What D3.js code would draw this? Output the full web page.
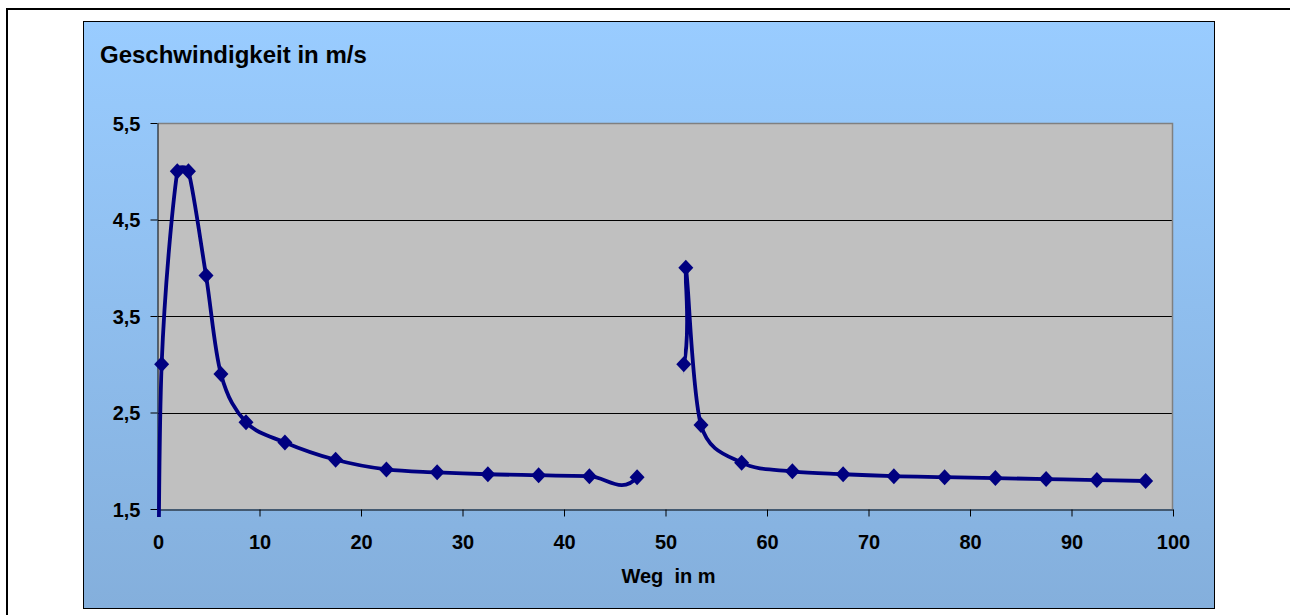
<!DOCTYPE html>
<html><head><meta charset="utf-8">
<script src="https://cdn.jsdelivr.net/npm/d3@7"></script>
<style>
body{margin:0;background:#fff}
svg{display:block}
text{font-family:"Liberation Sans",Arial,Helvetica,sans-serif;font-weight:bold;fill:#000}
</style>
</head><body>
<svg id="chart" width="1290" height="615"></svg>
<script>
// ---- data ----
const wegValues = [0, 0.36, 1.9, 3.0, 4.73, 6.2, 8.67, 12.5, 17.5, 22.5, 27.5, 32.5, 37.5, 42.5, 47.2,
                   51.8, 52.0, 53.5, 57.5, 62.5, 67.5, 72.5, 77.5, 82.5, 87.5, 92.5, 97.3];
const speedValues = [0, 3.0, 5.0, 5.0, 3.92, 2.9, 2.4, 2.19, 2.01, 1.91, 1.88, 1.86, 1.85, 1.84, 1.83,
                     3.0, 4.0, 2.37, 1.98, 1.89, 1.86, 1.84, 1.83, 1.82, 1.81, 1.80, 1.79];
const hiddenSegmentFrom = [47.2];   // Weg value where an undrawn segment starts
const hiddenSegmentTo = [51.8];     // Weg value where it ends
const yTickValues = [1.5, 2.5, 3.5, 4.5, 5.5];
const yTickLabels = ["1,5", "2,5", "3,5", "4,5", "5,5"];
const xTickValues = [0, 10, 20, 30, 40, 50, 60, 70, 80, 90, 100];
const xTickLabels = ["0", "10", "20", "30", "40", "50", "60", "70", "80", "90", "100"];
const chartTitle = "Geschwindigkeit in m/s";
const xAxisTitle = "Weg  in m";

// ---- layout ----
const svg = d3.select("#chart");
const plot = {left: 158, right: 1173, top: 123, bottom: 509};
const area = {left: 83.5, top: 21.5, right: 1214.5, bottom: 608.5};

const defs = svg.append("defs");
const grad = defs.append("linearGradient").attr("id", "bg").attr("x1", 0).attr("y1", 0).attr("x2", 0).attr("y2", 1);
grad.append("stop").attr("offset", "0%").attr("stop-color", "#99CCFF");
grad.append("stop").attr("offset", "100%").attr("stop-color", "#84AFDC");

// outer frame (right/bottom edges lie outside the picture)
svg.append("rect").attr("x", 7).attr("y", 9).attr("width", 1400).attr("height", 800)
  .attr("fill", "none").attr("stroke", "#000").attr("stroke-width", 2);

// chart area
svg.append("rect").attr("x", area.left).attr("y", area.top)
  .attr("width", area.right - area.left).attr("height", area.bottom - area.top)
  .attr("fill", "url(#bg)").attr("stroke", "#000").attr("stroke-width", 1);

const x = d3.scaleLinear().domain([0, 100]).range([plot.left, plot.right]);
const y = d3.scaleLinear().domain([1.5, 5.5]).range([plot.bottom, plot.top]);

// plot area
svg.append("rect").attr("x", plot.left).attr("y", plot.top)
  .attr("width", plot.right - plot.left).attr("height", plot.bottom - plot.top)
  .attr("fill", "#C0C0C0");

// gridlines
svg.append("g").selectAll("line").data(yTickValues.filter(v => v > 1.5 && v < 5.5)).join("line")
  .attr("x1", plot.left).attr("x2", plot.right)
  .attr("y1", d => Math.round(y(d)) + 0.5).attr("y2", d => Math.round(y(d)) + 0.5)
  .attr("stroke", "#000").attr("stroke-width", 1);

// top & right plot borders (gray)
svg.append("path")
  .attr("d", `M${plot.left},${plot.top + 0.5}H${plot.right - 0.5}V${plot.bottom}`)
  .attr("fill", "none").attr("stroke", "#808080").attr("stroke-width", 1.5);

// axes
const yAxis = d3.axisLeft(y).tickValues(yTickValues)
  .tickFormat((d, i) => yTickLabels[i]).tickSize(7).tickSizeOuter(0).tickPadding(10);
const gy = svg.append("g").attr("transform", `translate(${plot.left - 0.5},0)`).call(yAxis);
gy.selectAll("text").attr("font-size", 20).attr("dy", "0.36em").style("fill", "#000");
gy.selectAll("line, path").attr("stroke", "#000");

const xAxis = d3.axisBottom(x).tickValues(xTickValues)
  .tickFormat((d, i) => xTickLabels[i]).tickSize(7).tickSizeOuter(0).tickPadding(18);
const gx = svg.append("g").attr("transform", `translate(0,${plot.bottom + 0.5})`).call(xAxis);
gx.selectAll("text").attr("font-size", 20).style("fill", "#000");
gx.selectAll("line, path").attr("stroke", "#000");
gy.attr("font-family", null); gx.attr("font-family", null);

// titles
svg.append("text").attr("x", 100).attr("y", 63).attr("font-size", 24).text(chartTitle);
svg.append("text").attr("x", (plot.left + plot.right) / 2 + 3).attr("y", 583)
  .attr("font-size", 20).attr("text-anchor", "middle").style("white-space", "pre").text(xAxisTitle);

// series
const points = wegValues.map((w, i) => ({w, v: speedValues[i]}));

const clip = defs.append("clipPath").attr("id", "lineclip");
const bounds = [plot.left - 10].concat(
  hiddenSegmentFrom.flatMap((f, i) => [x(f), x(hiddenSegmentTo[i])]), [plot.right + 10]);
for (let i = 0; i < bounds.length; i += 2) {
  clip.append("rect").attr("x", bounds[i]).attr("y", plot.top - 20)
    .attr("width", bounds[i + 1] - bounds[i]).attr("height", plot.bottom - plot.top + 28);
}

// Excel-style smoothing: Catmull-Rom handles (1/6 of neighbour chord), capped at half the segment length
function excelSmooth(pts) {
  const p = d3.path();
  const n = pts.length;
  const dist = (a, b) => Math.hypot(b[0] - a[0], b[1] - a[1]);
  p.moveTo(pts[0][0], pts[0][1]);
  for (let i = 0; i < n - 1; i++) {
    const p0 = pts[Math.max(i - 1, 0)], p1 = pts[i], p2 = pts[i + 1], p3 = pts[Math.min(i + 2, n - 1)];
    const d12 = dist(p1, p2), d02 = dist(p0, p2), d13 = dist(p1, p3);
    let f1 = 1 / 6, f2 = 1 / 6;
    if (d02 * f1 > d12 / 2) f1 = d02 > 0 ? (d12 / 2) / d02 : 0;
    if (d13 * f2 > d12 / 2) f2 = d13 > 0 ? (d12 / 2) / d13 : 0;
    const c1 = [p1[0] + (p2[0] - p0[0]) * f1, p1[1] + (p2[1] - p0[1]) * f1];
    const c2 = [p2[0] - (p3[0] - p1[0]) * f2, p2[1] - (p3[1] - p1[1]) * f2];
    p.bezierCurveTo(c1[0], c1[1], c2[0], c2[1], p2[0], p2[1]);
  }
  return p.toString();
}

svg.append("path")
  .attr("d", excelSmooth(points.map(d => [x(d.w), y(d.v)])))
  .attr("clip-path", "url(#lineclip)")
  .attr("fill", "none").attr("stroke", "#000080").attr("stroke-width", 3.8)
  .attr("stroke-linejoin", "round");

svg.append("g").selectAll("path").data(points.filter(d => d.v >= 1.5)).join("path")
  .attr("transform", d => `translate(${x(d.w)},${y(d.v)})`)
  .attr("d", "M0,-8L7.5,0L0,8L-7.5,0Z")
  .attr("fill", "#000080");
</script>
</body></html>
